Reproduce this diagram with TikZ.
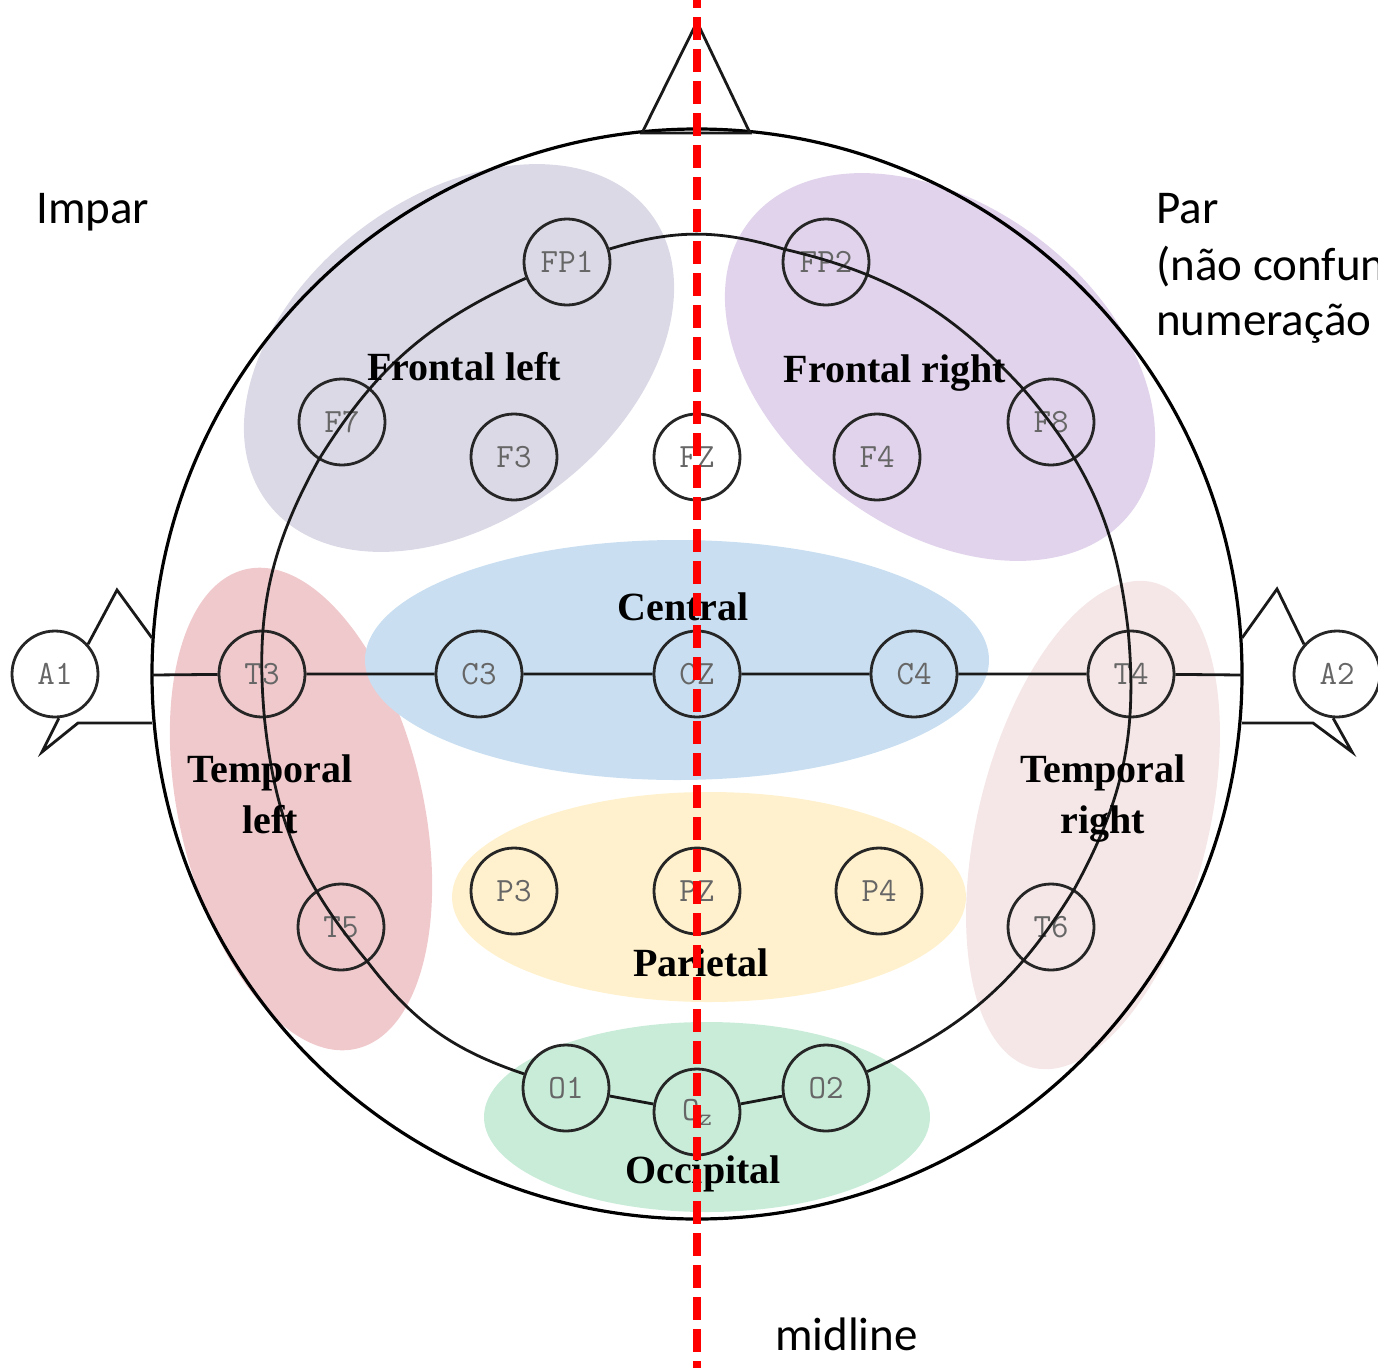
\documentclass[tikz,border=0pt]{standalone}
\usepackage{fontspec}
\setmainfont{Liberation Serif}
\newfontfamily\notefont{Carlito}
\usetikzlibrary{positioning}

\definecolor{lobeFL}{HTML}{DCD9E6}
\definecolor{lobeFR}{HTML}{E0D3EB}
\definecolor{lobeC}{HTML}{C9DFF1}
\definecolor{lobeTL}{HTML}{F0C9CC}
\definecolor{lobeTR}{HTML}{F5E7E7}
\definecolor{lobeP}{HTML}{FFF1CD}
\definecolor{lobeO}{HTML}{C9ECD9}

\begin{document}
\begin{tikzpicture}[x=1pt,y=1pt,
  electrode/.style={circle,draw=black!85,line width=2.8pt,minimum size=86pt,inner sep=0pt,
    font=\ttfamily\fontsize{34}{34}\selectfont,text=black!60},
  wire/.style={line width=2.8pt,draw=black!90},
  ring/.style={wire,bend left=17},
  lobe/.style={font=\bfseries\fontsize{40}{51}\selectfont,align=center,anchor=base,inner sep=0pt},
  note/.style={font=\notefont\fontsize{47}{47}\selectfont,anchor=base west,inner sep=0pt}]
\useasboundingbox (0,-1368) rectangle (1378,0);
%
% lobes
\fill[lobeFL,rotate around={37:(459,-358)}] (459,-358) ellipse [x radius=240pt,y radius=162pt];
\fill[lobeFR,rotate around={-37:(940,-367)}] (940,-367) ellipse [x radius=240pt,y radius=162pt];
\fill[lobeTL,rotate around={-77:(301,-809)}] (301,-809) ellipse [x radius=246pt,y radius=122pt];
\fill[lobeTR,rotate around={76:(1093,-825)}] (1093,-825) ellipse [x radius=250pt,y radius=115pt];
\fill[lobeC] (677,-660) ellipse [x radius=312pt,y radius=120pt];
\fill[lobeP] (709,-897) ellipse [x radius=257pt,y radius=105pt];
\fill[lobeO] (707,-1117) ellipse [x radius=223pt,y radius=95pt];
%
% head and nose
\draw[line width=3.2pt] (697,-674) circle [radius=545pt];
\draw[wire] (642,-133) -- (697,-22) -- (750,-133) -- cycle;
%
% electrodes
\node[electrode] (FP1) at (567,-262) {FP1};
\node[electrode] (FP2) at (826,-262) {FP2};
\node[electrode] (F7) at (342,-422) {F7};
\node[electrode] (F3) at (514,-457) {F3};
\node[electrode] (FZ) at (697,-457) {FZ};
\node[electrode] (F4) at (877,-457) {F4};
\node[electrode] (F8) at (1051,-422) {F8};
\node[electrode] (A1) at (55,-674) {A1};
\node[electrode] (T3) at (262,-674) {T3};
\node[electrode] (C3) at (479,-674) {C3};
\node[electrode] (CZ) at (697,-674) {CZ};
\node[electrode] (C4) at (914,-674) {C4};
\node[electrode] (T4) at (1131,-674) {T4};
\node[electrode] (A2) at (1337,-674) {A2};
\node[electrode] (T5) at (341,-927) {T5};
\node[electrode] (P3) at (514,-891) {P3};
\node[electrode] (PZ) at (697,-891) {PZ};
\node[electrode] (P4) at (879,-891) {P4};
\node[electrode] (T6) at (1051,-927) {T6};
\node[electrode] (O1) at (566,-1088) {O1};
\node[electrode] (OZ) at (697,-1112) {O\raisebox{-0.35ex}{\fontsize{24}{24}\selectfont z}};
\node[electrode] (O2) at (826,-1088) {O2};
%
% ears
\coordinate (lear) at (152,-675);
\coordinate (rear) at (1242,-675);
\draw[wire] (152,-638) -- (117,-590) -- (A1.42);
\draw[wire] (A1.-85) -- (42,-752) -- (78,-723) -- (152,-723);
\draw[wire] (1242,-638) -- (1277,-589) -- (A2.138);
\draw[wire] (A2.-95) -- (1352,-752) -- (1313,-723) -- (1242,-723);
%
% electrode ring and the T3--T4 line
\draw[ring] (FP1) to (FP2) to (F8) to (T4) to (T6) to (O2);
\draw[wire] (O2) -- (OZ) -- (O1);
\draw[ring] (O1) to (T5) to (T3) to (F7) to (FP1);
\draw[wire] (lear) -- (T3) -- (C3) -- (CZ) -- (C4) -- (T4) -- (rear);
%
% lobe names
\node[lobe] (lblFL) at (464,-380) {Frontal left};
\node[lobe] (lblFR) at (895,-382) {Frontal right};
\node[lobe] (lblC) at (683,-620) {Central};
\node[lobe] (lblTL) at (270,-833) {Temporal\\left};
\node[lobe] (lblTR) at (1103,-833) {Temporal\\right};
\node[lobe] (lblP) at (701,-976) {Parietal};
\node[lobe] (lblO) at (703,-1183) {Occipital};
%
% notes
\node[note] (impar) at (36,-223) {Impar};
\node[note] (par) at (1156,-223) {Par};
\node[note] (parA) at (1156,-280) {(não confundir};
\node[note] (parB) at (1156,-335) {numeração};
\node[note] (midline) at (775,-1350) {midline};
%
% midline
\coordinate (mtop) at (697,0);
\coordinate (mbot) at (697,-1368);
\draw[red,line width=7.5pt,dash pattern=on 23pt off 9pt,dash phase=15pt] (mtop) -- (mbot);
\end{tikzpicture}
\end{document}
